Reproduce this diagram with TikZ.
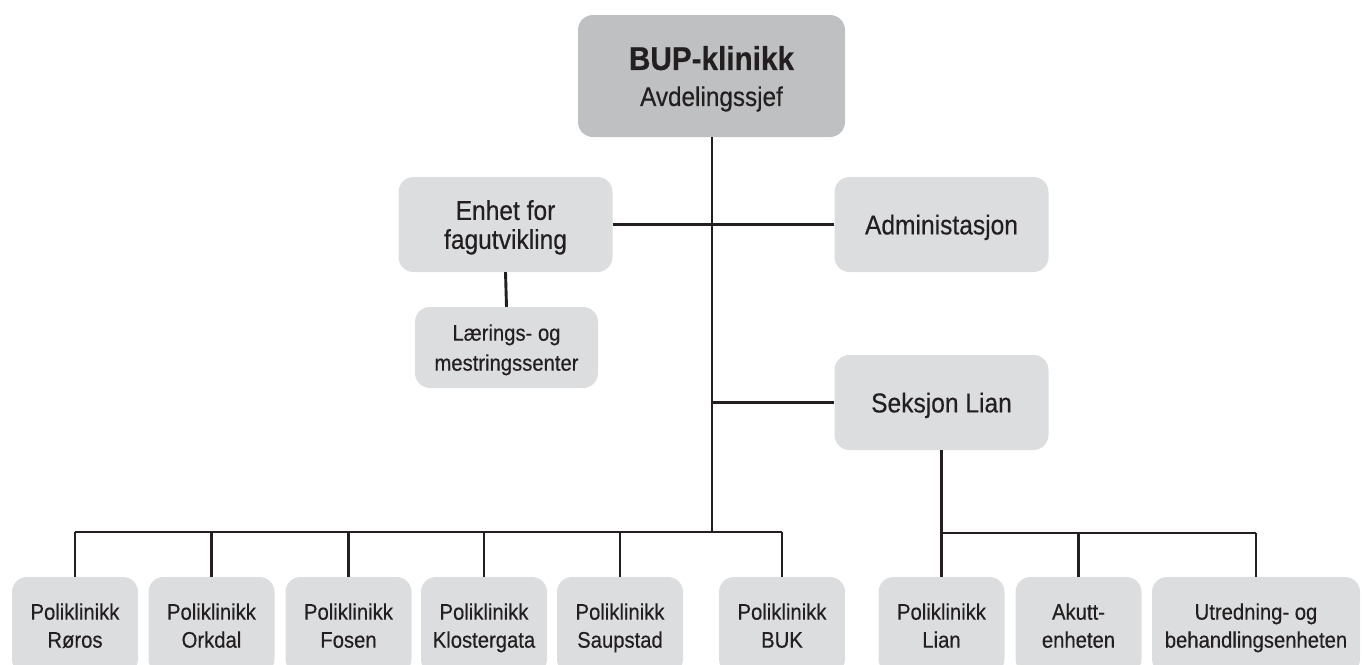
\documentclass[tikz,border=0pt]{standalone}
\usepackage{fontspec}
\setmainfont{Liberation Sans}[FakeStretch=0.9,FakeBold=0.4]
\definecolor{boxfill}{HTML}{DCDDDF}
\definecolor{topfill}{HTML}{BFC0C2}
\definecolor{ink}{HTML}{231F20}
\newcommand\twoln[2]{\vbox{\halign{\hfil##\hfil\cr#1\cr#2\cr}}}
\tikzset{
  unit/.style={draw=none, fill=boxfill, rounded corners=15pt, inner sep=0pt, text=ink, text depth=0pt},
  topbox/.style={unit, fill=topfill, minimum width=267pt, minimum height=122pt, font=\fontsize{27}{36}\selectfont},
  midbox/.style={unit, minimum width=214pt, minimum height=95pt, font=\fontsize{27.3}{29}\selectfont},
  smallbox/.style={unit, minimum width=183pt, minimum height=81pt, font=\fontsize{22.5}{30}\selectfont},
  leaf/.style={unit, minimum width=126pt, minimum height=97pt, font=\fontsize{22.5}{28}\selectfont},
  conn/.style={draw=ink, line width=2.9pt}
}
\begin{document}
\begin{tikzpicture}[x=1pt,y=-1pt]
\useasboundingbox (0,0) rectangle (1362,664);
\clip (0,0) rectangle (1362,664);
\node[topbox] (top) at (711.5,76) {\twoln{\fontsize{33}{36}\selectfont\bfseries BUP-klinikk}{Avdelingssjef}};
\node[midbox] (enhet) at (505.5,224.5) {\twoln{Enhet for}{fagutvikling}};
\node[smallbox] (laer) at (506.5,347.5) {\twoln{Lærings- og}{mestringssenter}};
\node[midbox] (admin) at (941.5,224.5) {Administasjon};
\node[midbox] (seksjon) at (941.5,402.5) {Seksjon Lian};
\node[leaf] (r1) at (75,625.5) {\twoln{Poliklinikk}{Røros}};
\node[leaf] (r2) at (211.5,625.5) {\twoln{Poliklinikk}{Orkdal}};
\node[leaf] (r3) at (348.5,625.5) {\twoln{Poliklinikk}{Fosen}};
\node[leaf] (r4) at (484,625.5) {\twoln{Poliklinikk}{Klostergata}};
\node[leaf] (r5) at (620,625.5) {\twoln{Poliklinikk}{Saupstad}};
\node[leaf] (r6) at (782,625.5) {\twoln{Poliklinikk}{BUK}};
\node[leaf] (s1) at (941.5,625.5) {\twoln{Poliklinikk}{Lian}};
\node[leaf] (s2) at (1078.5,625.5) {\twoln{Akutt-}{enheten}};
\node[leaf, minimum width=208pt] (s3) at (1256,625.5) {\twoln{Utredning- og}{behandlingsenheten}};
\coordinate (bus) at (712,532);
\coordinate (sbus) at (941.5,533);
% trunk
\draw[conn] (top.south -| bus) -- (bus);
\draw[conn] (enhet.east) -- (enhet.east -| bus);
\draw[conn] (admin.west) -- (admin.west -| bus);
\draw[conn] (seksjon.west) -- (seksjon.west -| bus);
\draw[conn] (enhet.south) -- (laer.north);
% left bus
\draw[conn] (bus -| r1.north) -- (bus -| r6.north);
\foreach \n in {r1,r2,r3,r4,r5,r6}{
  \draw[conn] (bus -| \n.north) -- (\n.north);
}
% right bus
\draw[conn] (seksjon.south) -- (sbus);
\draw[conn] (sbus -| s1.north) -- (sbus -| s3.north);
\foreach \n in {s1,s2,s3}{
  \draw[conn] (sbus -| \n.north) -- (\n.north);
}
\end{tikzpicture}
\end{document}
